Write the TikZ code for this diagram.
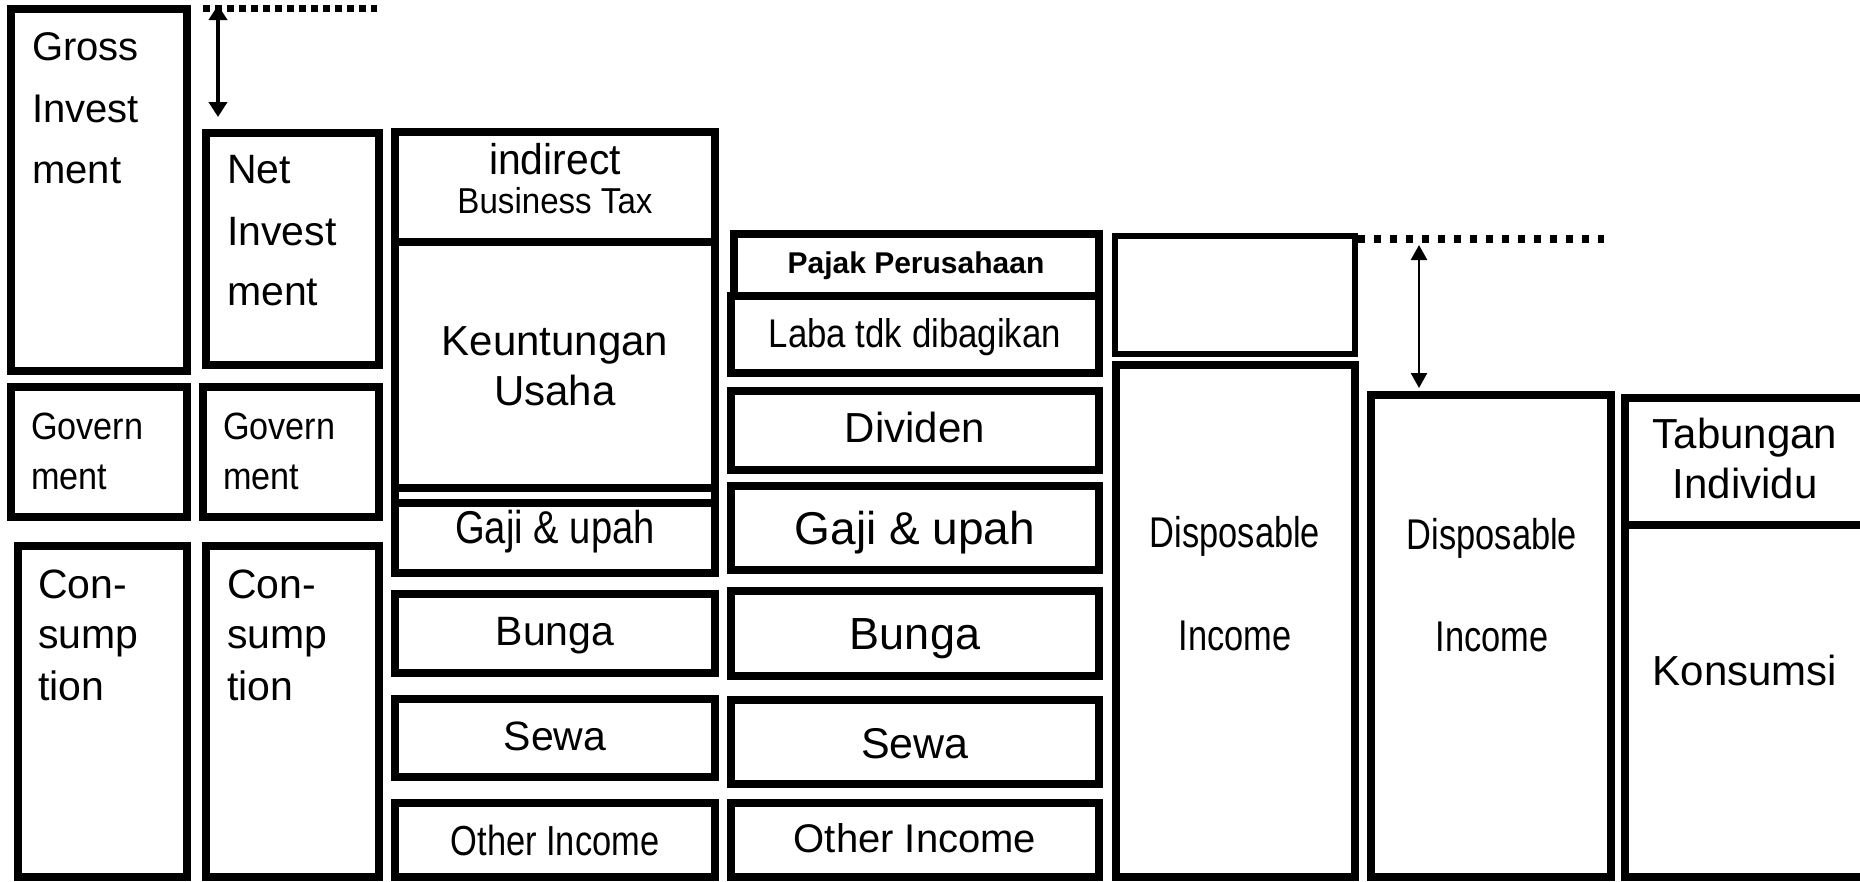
\documentclass[tikz,border=0pt]{standalone}
\usepackage{fontspec}
\setmainfont{Liberation Sans}
\usetikzlibrary{arrows.meta,fit}
\newcommand\fs[1]{\fontsize{#1}{#1}\selectfont}
\newcommand\hs[2]{\scalebox{#1}[1]{#2}}
\tikzset{
  box/.style={draw, line width=8pt, inner sep=0pt, outer sep=0pt},
  thinbox/.style={draw, line width=6pt, inner sep=0pt, outer sep=0pt},
  rule/.style={line width=8pt},
  ctr/.style={inner sep=0pt, anchor=base},
  lft/.style={inner sep=0pt, anchor=base west},
  dots/.style={line width=7pt, dash pattern=on 7pt off 5pt},
  dotsb/.style={line width=8pt, dash pattern=on 7pt off 9pt},
  dimarrow/.style={line width=4pt, {Triangle[length=15pt,width=18pt]}-{Triangle[length=15pt,width=18pt]}},
  dimarrowb/.style={line width=2.5pt, {Triangle[length=15pt,width=16pt]}-{Triangle[length=15pt,width=16pt]}}
}
\begin{document}
\begin{tikzpicture}[x=1pt,y=-1pt]
\useasboundingbox (0,0) rectangle (1860,881);
% column 1
\node[box, fit={(11,9) (187,371)}] (gross) {};
\node[box, fit={(11,387) (187,517)}] (gov1) {};
\node[box, fit={(18,546) (187,877)}] (cons1) {};
% column 2
\node[box, fit={(206,133) (379,365)}] (net) {};
\node[box, fit={(203,387) (379,517)}] (gov2) {};
\node[box, fit={(206,546) (379,877)}] (cons2) {};
% column 3
\node[box, fit={(395,132) (715,241.5)}] (ibt) {};
\node[box, fit={(395,241.5) (715,488)}] (ku) {};
\node[box, fit={(395,488) (715,573)}] (gaji1) {};
\draw[rule] (gaji1.west |- 0,503) -- (gaji1.east |- 0,503);
\node[box, fit={(395,594) (715,673)}] (bunga1) {};
\node[box, fit={(395,699) (715,777)}] (sewa1) {};
\node[box, fit={(395,803) (715,877)}] (other1) {};
% column 4
\node[box, fit={(734,234) (1099,295.5)}] (pajak) {};
\node[box, fit={(731,296) (1099,373)}] (laba) {};
\node[box, fit={(731,391) (1099,470)}] (div) {};
\node[box, fit={(731,486) (1099,570)}] (gaji2) {};
\node[box, fit={(731,591) (1099,676)}] (bunga2) {};
\node[box, fit={(731,700) (1099,784)}] (sewa2) {};
\node[box, fit={(731,803) (1099,877)}] (other2) {};
% column 5
\node[thinbox, fit={(1115,236) (1355,354)}] (gap1) {};
\node[box, fit={(1116,365) (1355,877)}] (disp1) {};
% column 6
\node[box, fit={(1371,395) (1611,877)}] (disp2) {};
% column 7
\node[box, fit={(1625,398) (1865,525)}] (tab) {};
\node[box, fit={(1625,525) (1865,877)}] (kons) {};

% dotted lines and arrows
\coordinate (d1s) at (203,8);
\coordinate (d1e) at (377,8);
\draw[dots] (d1s) -- (d1e);
\coordinate (a1t) at (218,5);
\coordinate (a1b) at (218,117);
\draw[dimarrow] (a1t) -- (a1b);
\coordinate (d2s) at (1358,239);
\coordinate (d2e) at (1604,239);
\draw[dotsb] (d2s) -- (d2e);
\coordinate (a2t) at (1419,245);
\coordinate (a2b) at (1419,388);
\draw[dimarrowb] (a2t) -- (a2b);

% texts column 1
\node[lft, font=\fs{40}] (tg1) at (32,60) {Gross};
\node[lft, font=\fs{40}] (tg2) at (32,122) {Invest};
\node[lft, font=\fs{40}] (tg3) at (32,183) {ment};
\node[lft, font=\fs{38}] (tgv1a) at (31,439) {\hs{0.9}{Govern}};
\node[lft, font=\fs{38}] (tgv1b) at (31,489) {\hs{0.9}{ment}};
\node[lft, font=\fs{41}] (tc1a) at (38,598) {Con-};
\node[lft, font=\fs{41}] (tc1b) at (38,648) {sump};
\node[lft, font=\fs{41}] (tc1c) at (38,700) {tion};
% column 2
\node[lft, font=\fs{41}] (tn1) at (227,183) {Net};
\node[lft, font=\fs{41}] (tn2) at (227,245) {Invest};
\node[lft, font=\fs{41}] (tn3) at (227,305) {ment};
\node[lft, font=\fs{38}] (tgv2a) at (223,439) {\hs{0.9}{Govern}};
\node[lft, font=\fs{38}] (tgv2b) at (223,489) {\hs{0.9}{ment}};
\node[lft, font=\fs{41}] (tc2a) at (227,598) {Con-};
\node[lft, font=\fs{41}] (tc2b) at (227,648) {sump};
\node[lft, font=\fs{41}] (tc2c) at (227,700) {tion};
% column 3
\node[ctr, font=\fs{43}] (tibt1) at (555,174) {\hs{0.95}{indirect}};
\node[ctr, font=\fs{36}] (tibt2) at (555,213) {\hs{0.92}{Business Tax}};
\node[ctr, font=\fs{42}] (tku1) at (555,355) {Keuntungan};
\node[ctr, font=\fs{42}] (tku2) at (555,405) {Usaha};
\node[ctr, font=\fs{46}] (tgaji1) at (555,543) {\hs{0.83}{Gaji \& upah}};
\node[ctr, font=\fs{41}] (tbunga1) at (555,645) {Bunga};
\node[ctr, font=\fs{41}] (tsewa1) at (555,750) {Sewa};
\node[ctr, font=\fs{42}] (tother1) at (555,855) {\hs{0.82}{Other Income}};
% column 4
\node[ctr, font=\fs{30}\bfseries] (tpajak) at (916,273) {Pajak Perusahaan};
\node[ctr, font=\fs{40}] (tlaba) at (915,347) {\hs{0.87}{Laba tdk dibagikan}};
\node[ctr, font=\fs{42}] (tdiv) at (915,442) {Dividen};
\node[ctr, font=\fs{46}] (tgaji2) at (915,544) {Gaji \& upah};
\node[ctr, font=\fs{45}] (tbunga2) at (915,649) {Bunga};
\node[ctr, font=\fs{43}] (tsewa2) at (915,758) {Sewa};
\node[ctr, font=\fs{40}] (tother2) at (915,852) {Other Income};
% column 5, 6
\node[ctr, font=\fs{43}] (tdisp1a) at (1235,547) {\hs{0.8}{Disposable}};
\node[ctr, font=\fs{43}] (tdisp1b) at (1235,650) {\hs{0.8}{Income}};
\node[ctr, font=\fs{43}] (tdisp2a) at (1492,549) {\hs{0.8}{Disposable}};
\node[ctr, font=\fs{43}] (tdisp2b) at (1492,651) {\hs{0.8}{Income}};
% column 7
\node[ctr, font=\fs{42}] (ttab1) at (1745,448) {Tabungan};
\node[ctr, font=\fs{42}] (ttab2) at (1745,498) {Individu};
\node[ctr, font=\fs{42}] (tkons) at (1745,685) {Konsumsi};
\end{tikzpicture}
\end{document}
